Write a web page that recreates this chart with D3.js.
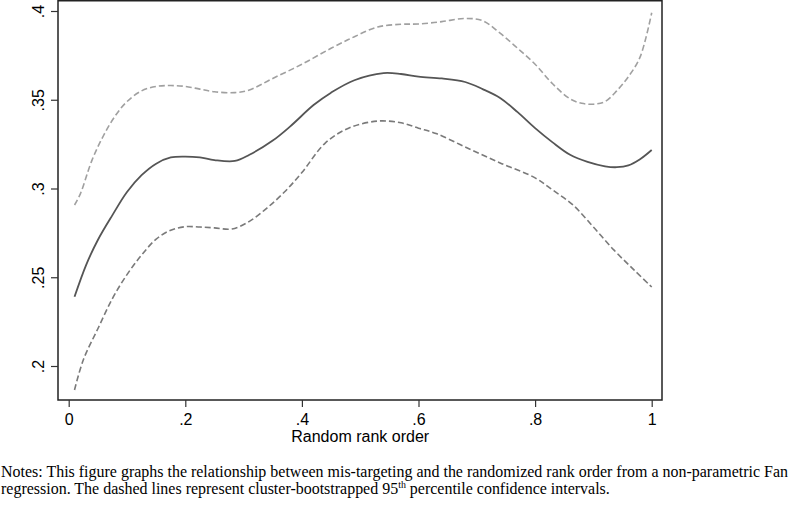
<!DOCTYPE html>
<html><head><meta charset="utf-8">
<script src="https://cdn.jsdelivr.net/npm/d3@7"></script>
<style>body{margin:0;background:#fff}svg{display:block}</style>
</head><body>
<svg id="c" width="800" height="509"></svg>
<script>
const xTicks = [0, 0.2, 0.4, 0.6, 0.8, 1];
const xTickLabels = ["0", ".2", ".4", ".6", ".8", "1"];
const yTicks = [0.2, 0.25, 0.3, 0.35, 0.4];
const yTickLabels = [".2", ".25", ".3", ".35", ".4"];

const xMain = [0.01,0.03,0.05,0.075,0.1,0.125,0.15,0.175,0.2,0.225,0.25,0.285,0.31,0.35,0.38,0.42,0.45,0.49,0.54,0.57,0.6,0.64,0.68,0.71,0.74,0.77,0.8,0.83,0.86,0.89,0.92,0.94,0.96,0.98,1.0];
const yMain = [0.239,0.257,0.271,0.285,0.298,0.3075,0.314,0.3175,0.318,0.3175,0.316,0.3155,0.319,0.327,0.335,0.347,0.354,0.361,0.365,0.3645,0.363,0.362,0.360,0.356,0.351,0.343,0.334,0.326,0.319,0.315,0.3125,0.312,0.313,0.3165,0.3217];

const xUpper = [0.01,0.02,0.04,0.06,0.08,0.1,0.125,0.15,0.175,0.2,0.225,0.25,0.285,0.31,0.35,0.4,0.45,0.49,0.53,0.57,0.6,0.64,0.68,0.71,0.74,0.77,0.8,0.83,0.86,0.88,0.9,0.92,0.94,0.96,0.98,1.0];
const yUpper = [0.2907,0.297,0.316,0.33,0.341,0.349,0.355,0.3575,0.358,0.3575,0.356,0.3545,0.354,0.3555,0.362,0.37,0.379,0.3855,0.391,0.3925,0.3927,0.394,0.3958,0.3945,0.3875,0.379,0.370,0.359,0.3505,0.348,0.3475,0.349,0.355,0.363,0.374,0.399];

const xLower = [0.01,0.025,0.05,0.075,0.1,0.125,0.15,0.175,0.2,0.225,0.25,0.28,0.31,0.34,0.37,0.4,0.44,0.48,0.53,0.57,0.6,0.63,0.68,0.74,0.8,0.83,0.865,0.9,0.935,0.97,1.0];
const yLower = [0.1865,0.2034,0.221,0.238,0.2515,0.2625,0.2715,0.2765,0.2785,0.2783,0.2778,0.2772,0.2815,0.289,0.298,0.309,0.3256,0.334,0.338,0.337,0.334,0.331,0.3234,0.3144,0.306,0.2992,0.2907,0.2783,0.2654,0.254,0.2445];

const xTitle = "Random rank order";
const notesLine1 = "Notes: This figure graphs the relationship between mis-targeting and the randomized rank order from a non-parametric Fan";
const notesLine2a = "regression. The dashed lines represent cluster-bootstrapped 95";
const notesLine2sup = "th";
const notesLine2b = " percentile confidence intervals.";

const svg = d3.select("#c");
const frame = {left: 58, right: 662, top: 0.75, bottom: 400};
const x = d3.scaleLinear().domain([0, 1]).range([68.7, 651.7]);
const y = d3.scaleLinear().domain([0.2, 0.4]).range([366, 11]);

// frame
svg.append("rect")
  .attr("x", frame.left).attr("y", frame.top)
  .attr("width", frame.right - frame.left).attr("height", frame.bottom - frame.top)
  .attr("fill", "none").attr("stroke", "#222").attr("stroke-width", 1.5);

// axes
const xAxis = d3.axisBottom(x).tickValues(xTicks).tickFormat((d,i) => xTickLabels[i]).tickSize(7).tickPadding(7);
const gx = svg.append("g").attr("transform", `translate(0,${frame.bottom})`).call(xAxis);
gx.select(".domain").remove();
gx.selectAll("line").attr("stroke", "#333").attr("stroke-width", 1.2);
gx.selectAll("text").attr("font-family", "Liberation Sans, Arial, sans-serif").attr("font-size", 16).attr("fill", "#000");

const yAxis = d3.axisLeft(y).tickValues(yTicks).tickFormat((d,i) => yTickLabels[i]).tickSize(7);
const gy = svg.append("g").attr("transform", `translate(${frame.left},0)`).call(yAxis);
gy.select(".domain").remove();
gy.selectAll("line").attr("stroke", "#333").attr("stroke-width", 1.2);
gy.selectAll("text")
  .attr("font-family", "Liberation Sans, Arial, sans-serif").attr("font-size", 16).attr("fill", "#000")
  .attr("x", null).attr("dy", null)
  .attr("text-anchor", "middle")
  .attr("transform", "translate(-14,0) rotate(-90)");

// lines
const line = d3.line().x(d => x(d[0])).y(d => y(d[1])).curve(d3.curveCatmullRom.alpha(0.5));
svg.append("path").datum(d3.zip(xUpper, yUpper)).attr("d", line)
  .attr("fill", "none").attr("stroke", "#a0a0a0").attr("stroke-width", 1.6).attr("stroke-dasharray", "6,3");
svg.append("path").datum(d3.zip(xLower, yLower)).attr("d", line)
  .attr("fill", "none").attr("stroke", "#7a7a7a").attr("stroke-width", 1.6).attr("stroke-dasharray", "6,3");
svg.append("path").datum(d3.zip(xMain, yMain)).attr("d", line)
  .attr("fill", "none").attr("stroke", "#555").attr("stroke-width", 1.8);

// x title
svg.append("text").attr("x", (x(0) + x(1)) / 2).attr("y", 442).attr("text-anchor", "middle")
  .attr("font-family", "Liberation Sans, Arial, sans-serif").attr("font-size", 16).text(xTitle);

// notes
const notes = svg.append("g").attr("font-family", "Liberation Serif, Times New Roman, serif").attr("font-size", 16).attr("fill", "#000");
const t1 = notes.append("text").attr("x", 1).attr("y", 477).text(notesLine1);
const w = t1.node().getComputedTextLength();
const fs = 16 * 788 / w;
notes.attr("font-size", fs);
const t2 = notes.append("text").attr("x", 1).attr("y", 494);
t2.append("tspan").text(notesLine2a);
t2.append("tspan").attr("font-size", fs * 0.62).attr("dy", -6).text(notesLine2sup);
t2.append("tspan").attr("dy", 6).text(notesLine2b);
</script>
</body></html>
